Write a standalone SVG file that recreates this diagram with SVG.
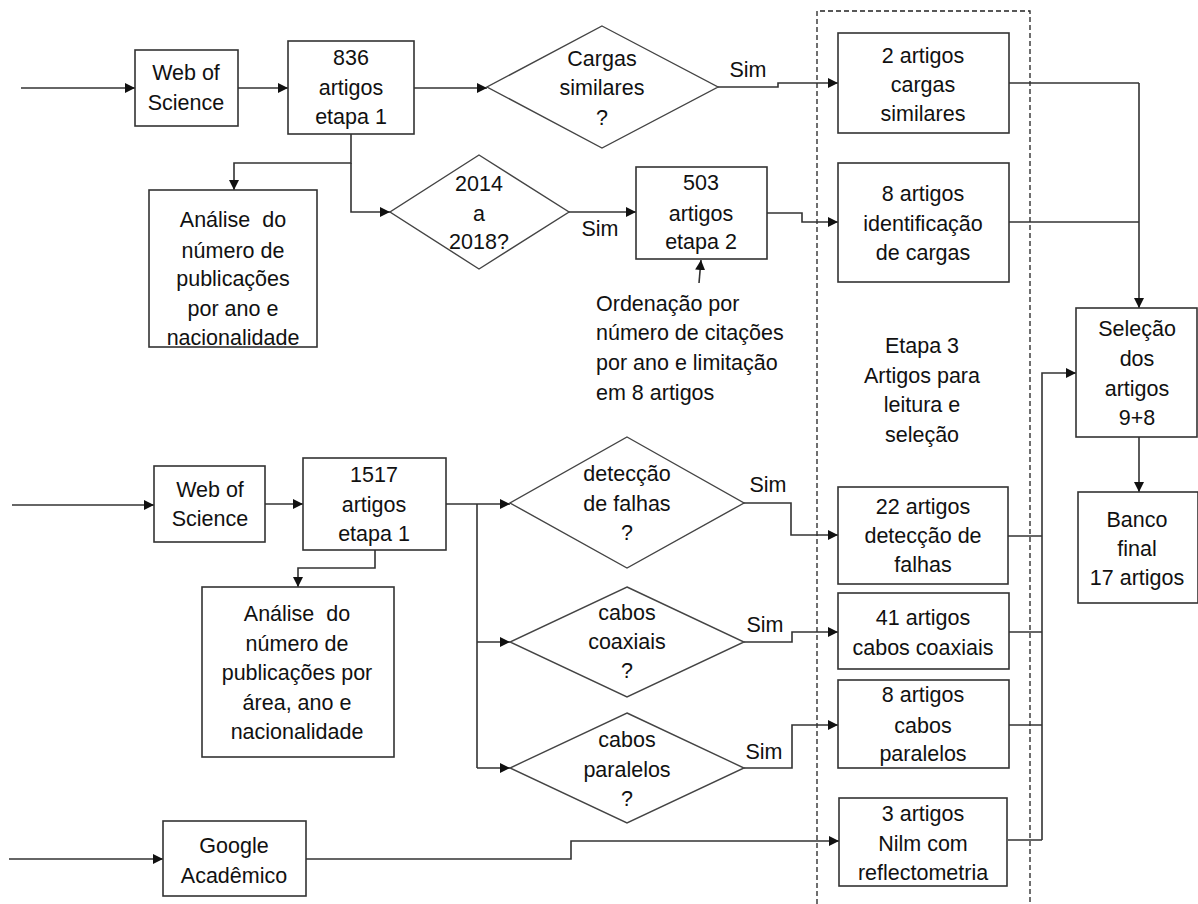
<svg xmlns="http://www.w3.org/2000/svg" width="1198" height="904" viewBox="0 0 1198 904">
<style>
  .box{fill:#fff;stroke:#333;stroke-width:1.6}
  .dia{fill:#fff;stroke:#444;stroke-width:1.4}
  .t{font-family:"Liberation Sans",Arial,sans-serif;font-size:21.5px;fill:#111;text-anchor:middle;white-space:pre}
  .tl{font-family:"Liberation Sans",Arial,sans-serif;font-size:21.5px;fill:#111;text-anchor:start}
  .c{fill:none;stroke:#333;stroke-width:1.6}
  .ca{fill:none;stroke:#333;stroke-width:1.6;marker-end:url(#ah)}
</style>
<defs>
  <marker id="ah" viewBox="0 0 10 10" refX="10" refY="5" markerWidth="10" markerHeight="10" markerUnits="userSpaceOnUse" orient="auto">
    <path d="M0,0 L10,5 L0,10 z" fill="#111"/>
  </marker>
</defs>
<rect width="1198" height="904" fill="#fff"/>

<g id="etapa3-region">
  <path d="M817,904 V11 H1030 V904" fill="none" stroke="#222" stroke-width="1.3" stroke-dasharray="5,3"/>
  <text class="t" x="922" y="353">Etapa 3</text>
  <text class="t" x="922" y="383">Artigos para</text>
  <text class="t" x="922" y="412">leitura e</text>
  <text class="t" x="922" y="442">seleção</text>
</g>

<g id="connectors">
  <path class="ca" d="M21,88 H135"/>
  <path class="ca" d="M238,88 H288"/>
  <path class="ca" d="M414,88 H487"/>
  <path class="ca" d="M351,134 V163 H234 V190"/>
  <path class="ca" d="M351,163 V212 H390"/>
  <path class="ca" d="M569,212 H636"/>
  <path class="ca" d="M767,213 H802 V222 H838"/>
  <path class="ca" d="M718,87 H778 V83 H838"/>
  <path class="ca" d="M699,283 L701,260"/>
  <path class="c" d="M1009,83 H1139"/>
  <path class="c" d="M1009,222 H1139"/>
  <path class="ca" d="M1139,83 V308"/>
  <path class="ca" d="M1139,437 V492"/>
  <path class="ca" d="M12,505 H154"/>
  <path class="ca" d="M265,504 H303"/>
  <path class="ca" d="M375,550 V568 H298 V587"/>
  <path class="ca" d="M446,504 H510"/>
  <path class="c" d="M477,504 V768"/>
  <path class="ca" d="M477,642 H510"/>
  <path class="ca" d="M477,768 H510"/>
  <path class="ca" d="M744,503 H791 V535 H838"/>
  <path class="ca" d="M744,642 H792 V632 H838"/>
  <path class="ca" d="M744,768 H792 V725 H838"/>
  <path class="ca" d="M9,859 H163"/>
  <path class="ca" d="M306,859 H571 V841 H839"/>
  <path class="c" d="M1008,536 H1042"/>
  <path class="c" d="M1008,632 H1042"/>
  <path class="c" d="M1008,725 H1042"/>
  <path class="c" d="M1008,840 H1042"/>
  <path class="ca" d="M1042,840 V373 H1076"/>
  <text class="t" x="748" y="77">Sim</text>
  <text class="t" x="600" y="236">Sim</text>
  <text class="t" x="768" y="492">Sim</text>
  <text class="t" x="765" y="632">Sim</text>
  <text class="t" x="764" y="759">Sim</text>
</g>

<g id="wos1">
  <rect class="box" x="135" y="50" width="103" height="76"/>
  <text class="t" x="186" y="80">Web of</text>
  <text class="t" x="186" y="110">Science</text>
</g>
<g id="n836">
  <rect class="box" x="288" y="41" width="126" height="93"/>
  <text class="t" x="351" y="65">836</text>
  <text class="t" x="351" y="95">artigos</text>
  <text class="t" x="351" y="124">etapa 1</text>
</g>
<g id="analise1">
  <rect class="box" x="149" y="190" width="168" height="157"/>
  <text class="t" x="233" y="227" xml:space="preserve">Análise  do</text>
  <text class="t" x="233" y="258">número de</text>
  <text class="t" x="233" y="286">publicações</text>
  <text class="t" x="233" y="316">por ano e</text>
  <text class="t" x="233" y="345">nacionalidade</text>
</g>
<g id="cargas-q">
  <polygon class="dia" points="602,26 718,87 602,148 487,87"/>
  <text class="t" x="602" y="66">Cargas</text>
  <text class="t" x="602" y="95">similares</text>
  <text class="t" x="602" y="125">?</text>
</g>
<g id="anos-q">
  <polygon class="dia" points="479,155 569,212 479,269 390,212"/>
  <text class="t" x="479" y="191">2014</text>
  <text class="t" x="479" y="221">a</text>
  <text class="t" x="479" y="249">2018?</text>
</g>
<g id="n503">
  <rect class="box" x="636" y="167" width="131" height="92"/>
  <text class="t" x="701" y="190">503</text>
  <text class="t" x="701" y="221">artigos</text>
  <text class="t" x="701" y="249">etapa 2</text>
</g>
<g id="ordenacao">
  <text class="tl" x="596" y="311">Ordenação por</text>
  <text class="tl" x="596" y="340">número de citações</text>
  <text class="tl" x="596" y="370">por ano e limitação</text>
  <text class="tl" x="596" y="400">em 8 artigos</text>
</g>
<g id="a2">
  <rect class="box" x="838" y="33" width="171" height="100"/>
  <text class="t" x="923" y="63">2 artigos</text>
  <text class="t" x="923" y="92">cargas</text>
  <text class="t" x="923" y="121">similares</text>
</g>
<g id="a8id">
  <rect class="box" x="838" y="163" width="171" height="119"/>
  <text class="t" x="923" y="201">8 artigos</text>
  <text class="t" x="923" y="231">identificação</text>
  <text class="t" x="923" y="260">de cargas</text>
</g>
<g id="selecao">
  <rect class="box" x="1076" y="308" width="121" height="129"/>
  <text class="t" x="1137" y="336">Seleção</text>
  <text class="t" x="1137" y="366">dos</text>
  <text class="t" x="1137" y="396">artigos</text>
  <text class="t" x="1137" y="425">9+8</text>
</g>
<g id="banco">
  <rect class="box" x="1078" y="492" width="120" height="111"/>
  <text class="t" x="1137" y="527">Banco</text>
  <text class="t" x="1137" y="556">final</text>
  <text class="t" x="1137" y="585">17 artigos</text>
</g>
<g id="wos2">
  <rect class="box" x="154" y="466" width="111" height="76"/>
  <text class="t" x="210" y="497">Web of</text>
  <text class="t" x="210" y="526">Science</text>
</g>
<g id="n1517">
  <rect class="box" x="303" y="458" width="143" height="92"/>
  <text class="t" x="374" y="482">1517</text>
  <text class="t" x="374" y="512">artigos</text>
  <text class="t" x="374" y="541">etapa 1</text>
</g>
<g id="analise2">
  <rect class="box" x="202" y="587" width="192" height="170"/>
  <text class="t" x="297" y="621" xml:space="preserve">Análise  do</text>
  <text class="t" x="297" y="651">número de</text>
  <text class="t" x="297" y="680">publicações por</text>
  <text class="t" x="297" y="710">área, ano e</text>
  <text class="t" x="297" y="739">nacionalidade</text>
</g>
<g id="falhas-q">
  <polygon class="dia" points="627,437 744,503 627,568 510,503"/>
  <text class="t" x="627" y="481">detecção</text>
  <text class="t" x="627" y="511">de falhas</text>
  <text class="t" x="627" y="540">?</text>
</g>
<g id="coax-q">
  <polygon class="dia" points="627,587 744,642 627,697 510,642"/>
  <text class="t" x="627" y="620">cabos</text>
  <text class="t" x="627" y="649">coaxiais</text>
  <text class="t" x="627" y="678">?</text>
</g>
<g id="paral-q">
  <polygon class="dia" points="627,713 744,768 627,823 510,768"/>
  <text class="t" x="627" y="747">cabos</text>
  <text class="t" x="627" y="777">paralelos</text>
  <text class="t" x="627" y="806">?</text>
</g>
<g id="a22">
  <rect class="box" x="838" y="487" width="170" height="97"/>
  <text class="t" x="923" y="514">22 artigos</text>
  <text class="t" x="923" y="543">detecção de</text>
  <text class="t" x="923" y="572">falhas</text>
</g>
<g id="a41">
  <rect class="box" x="838" y="593" width="171" height="76"/>
  <text class="t" x="923" y="625">41 artigos</text>
  <text class="t" x="923" y="655">cabos coaxiais</text>
</g>
<g id="a8par">
  <rect class="box" x="838" y="680" width="171" height="88"/>
  <text class="t" x="923" y="702">8 artigos</text>
  <text class="t" x="923" y="733">cabos</text>
  <text class="t" x="923" y="761">paralelos</text>
</g>
<g id="a3">
  <rect class="box" x="839" y="798" width="168" height="88"/>
  <text class="t" x="923" y="821">3 artigos</text>
  <text class="t" x="923" y="851">Nilm com</text>
  <text class="t" x="923" y="880">reflectometria</text>
</g>
<g id="google">
  <rect class="box" x="163" y="821" width="143" height="75"/>
  <text class="t" x="234" y="853">Google</text>
  <text class="t" x="234" y="883">Acadêmico</text>
</g>
</svg>
